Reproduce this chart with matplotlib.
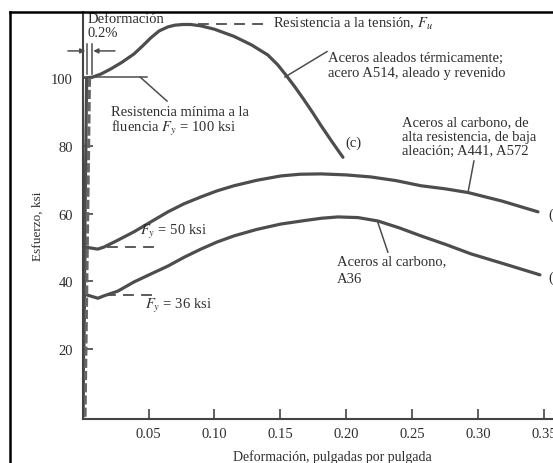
import matplotlib
matplotlib.use("Agg")
import matplotlib.pyplot as plt
from matplotlib.lines import Line2D

plt.rcParams['font.family'] = ['Liberation Serif', 'DejaVu Serif']
plt.rcParams['mathtext.fontset'] = 'stix'

# curve (c): A514, aleado y revenido
a514_x = [0.0, 0.0030, 0.0077, 0.0140, 0.0214, 0.0300, 0.0389, 0.0450, 0.0518,
          0.0580, 0.0647, 0.0700, 0.0760, 0.0820, 0.0897, 0.1000, 0.1148, 0.1280,
          0.1405, 0.1480, 0.1542, 0.1610, 0.1679, 0.1745, 0.1808, 0.1890, 0.1975]
a514_y = [0.0, 100.0, 100.3, 101.2, 102.7, 104.7, 107.1, 109.3, 111.9,
          113.9, 115.1, 115.6, 115.8, 115.8, 115.4, 114.4, 112.3, 109.8,
          106.8, 103.9, 100.9, 97.4, 93.6, 89.8, 86.0, 81.3, 76.6]

# curve (b): A441, A572
a572_x = [0.0, 0.0017, 0.0115, 0.0161, 0.0250, 0.0389, 0.0520, 0.0647, 0.0770,
          0.0897, 0.1020, 0.1148, 0.1320, 0.1504, 0.1650, 0.1808, 0.2000, 0.2187,
          0.2380, 0.2567, 0.2750, 0.2924, 0.3180, 0.3455]
a572_y = [0.0, 50.1, 49.5, 50.1, 51.8, 54.6, 57.6, 60.5, 62.9,
          64.9, 66.7, 68.2, 69.8, 71.1, 71.6, 71.7, 71.4, 70.8,
          69.7, 68.2, 67.3, 66.2, 63.7, 60.5]

# curve (a): A36
a36_x = [0.0, 0.0012, 0.0115, 0.0161, 0.0267, 0.0389, 0.0520, 0.0647, 0.0770,
         0.0897, 0.1020, 0.1148, 0.1320, 0.1504, 0.1679, 0.1810, 0.1937, 0.2090,
         0.2240, 0.2400, 0.2567, 0.2760, 0.2946, 0.3210, 0.3470]
a36_y = [0.0, 36.2, 35.0, 35.7, 37.1, 39.8, 42.2, 44.5, 47.1,
         49.5, 51.6, 53.4, 55.3, 56.9, 57.9, 58.6, 59.0, 58.8,
         57.8, 55.8, 53.4, 50.8, 48.1, 45.0, 41.9]

x_ticks = [0.05, 0.10, 0.15, 0.20, 0.25, 0.30, 0.35]
x_tick_labels = ['0.05', '0.10', '0.15', '0.20', '0.25', '0.30', '0.35']
y_ticks = [20, 40, 60, 80, 100]

W, H = 553, 464
line_col = '#4d4d4d'
txt_col = '#2e2e2e'

fig = plt.figure(figsize=(W / 100, H / 100), dpi=100)
ax = fig.add_axes([82.7 / W, (H - 420) / H, (W - 82.7) / W, (420 - 13.3) / H])
ax.set_xlim(0, (W - 82.7) / 1317.7)
ax.set_ylim(-0.65, 119.4)

for s in ['top', 'right']:
    ax.spines[s].set_visible(False)
for s in ['left', 'bottom']:
    ax.spines[s].set_color('#444444')
    ax.spines[s].set_linewidth(1.5)

ax.set_xticks(x_ticks)
ax.set_xticklabels(x_tick_labels)
ax.set_yticks(y_ticks)
ax.tick_params(direction='in', length=7, width=1.2, color='#444444',
               labelcolor=txt_col, labelsize=10.5)
ax.tick_params(axis='y', pad=7)
ax.tick_params(axis='x', pad=6)

# curves
kw = dict(color=line_col, lw=2.3, solid_capstyle='round', solid_joinstyle='round')
ax.plot(a514_x, a514_y, **kw)
ax.plot(a572_x, a572_y, **kw)
ax.plot(a36_x, a36_y, **kw)
ax.plot([0.0018, 0.0052], [0, 100], color='#666666', lw=2.2, ls=(0, (3, 1)))

thin = dict(color=line_col, lw=1.1)
dash = dict(color=line_col, lw=1.3, ls=(0, (6, 4)))

# yield / ultimate markers
ax.plot([0, 0.0488], [100.3, 100.3], **thin)
ax.plot([0.0435, 0.064], [100.3, 93.2], **thin)
ax.plot([0.0875, 0.140], [116.0, 116.0], **dash)
ax.plot([0.0184, 0.0549], [50.0, 50.0], **dash)
ax.plot([0.0170, 0.0549], [36.0, 36.0], **dash)

# leaders
ax.plot([0.1535, 0.1854], [100.3, 107.8], **thin)
ax.plot([0.2924, 0.2969], [66.2, 75.5], **thin)
ax.plot([0.2236, 0.2316], [57.8, 48.6], **thin)

# 0.2% offset marks
ax.plot([0.0033, 0.0033], [101.2, 110.0], **thin)
ax.plot([0.0071, 0.0071], [101.2, 110.0], **thin)
ax.annotate('', xy=(0.0020, 108.0), xytext=(-0.0112, 108.0),
            arrowprops=dict(arrowstyle='-|>', color=line_col, lw=1.1,
                            mutation_scale=7, shrinkA=0, shrinkB=0),
            annotation_clip=False)
ax.annotate('', xy=(0.0080, 108.0), xytext=(0.0245, 108.0),
            arrowprops=dict(arrowstyle='-|>', color=line_col, lw=1.1,
                            mutation_scale=7, shrinkA=0, shrinkB=0),
            annotation_clip=False)

fs = 10.5
tk = dict(color=txt_col, fontsize=fs, va='center', ha='left')
ax.text(0.0038, 117.6, 'Deformación', **tk)
ax.text(0.0038, 113.3, '0.2%', **tk)
ax.text(0.1444, 116.3, 'Resistencia a la tensión, $F_u$', **tk)
ax.text(0.186, 106.2, 'Aceros aleados térmicamente;', **tk)
ax.text(0.186, 101.6, 'acero A514, aleado y revenido', **tk)
ax.text(0.0215, 90.0, 'Resistencia mínima a la', **tk)
ax.text(0.0215, 85.5, 'fluencia $F_y$ = 100 ksi', **tk)
ax.text(0.199, 81.1, '(c)', **tk)
ax.text(0.2423, 87.0, 'Aceros al carbono, de', **tk)
ax.text(0.2423, 82.6, 'alta resistencia, de baja', **tk)
ax.text(0.2423, 78.5, 'aleación; A441, A572', **tk)
ax.text(0.0435, 54.8, '$F_y$ = 50 ksi', **tk)
ax.text(0.047, 33.0, '$F_y$ = 36 ksi', **tk)
ax.text(0.193, 46.0, 'Aceros al carbono,', **tk)
ax.text(0.193, 40.7, 'A36', **tk)
ax.text(0.3531, 59.9, '(b)', **tk)
ax.text(0.3531, 41.3, '(a)', **tk)

fig.text(38 / W, 1 - 226 / H, 'Esfuerzo, ksi', rotation=90, ha='center',
         va='center', color=txt_col, fontsize=9.5)
fig.text(332 / W, 1 - 457 / H, 'Deformación, pulgadas por pulgada',
         ha='center', va='center', color=txt_col, fontsize=10)

# scan border
fig.add_artist(Line2D([10 / W, 10 / W], [0, 1 - 13.3 / H], transform=fig.transFigure,
                      color='black', lw=1.8))
fig.add_artist(Line2D([10 / W, 1], [1 - 13.3 / H, 1 - 13.3 / H], transform=fig.transFigure,
                      color='black', lw=1.8))

fig.savefig('out.png', dpi=100)
